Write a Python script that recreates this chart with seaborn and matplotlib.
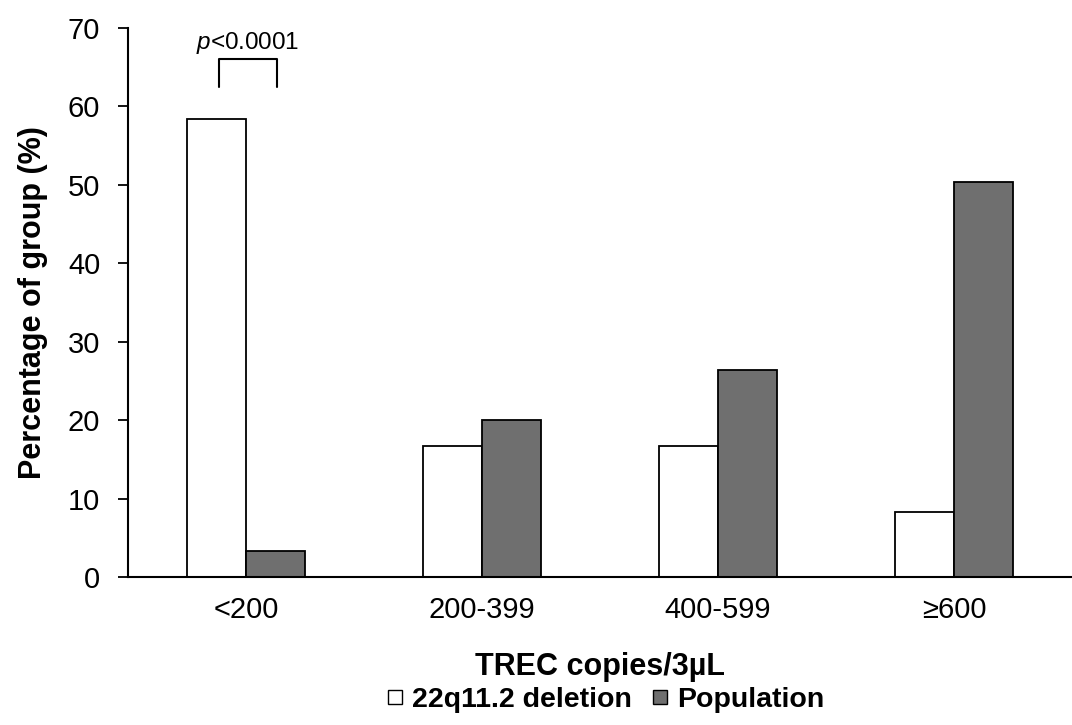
import matplotlib
matplotlib.use("Agg")
import matplotlib.pyplot as plt
import seaborn as sns
import pandas as pd
from matplotlib.lines import Line2D

categories = ["<200", "200-399", "400-599", "≥600"]
deletion = [58.3, 16.7, 16.7, 8.3]
population = [3.3, 20.0, 26.4, 50.3]
series_names = ["22q11.2 deletion", "Population"]
colors = ["#ffffff", "#6f6f6f"]
yticks = [0, 10, 20, 30, 40, 50, 60, 70]

sns.set_theme(style="white")
plt.rcParams["font.family"] = ["Liberation Sans", "DejaVu Sans"]
plt.rcParams["mathtext.fontset"] = "custom"
plt.rcParams["mathtext.it"] = "Liberation Sans:italic"
plt.rcParams["mathtext.rm"] = "Liberation Sans"
plt.rcParams["text.color"] = "black"
plt.rcParams["axes.labelcolor"] = "black"
plt.rcParams["xtick.color"] = "black"
plt.rcParams["ytick.color"] = "black"

df = pd.DataFrame({
    "cat": categories * 2,
    "val": deletion + population,
    "grp": [series_names[0]] * 4 + [series_names[1]] * 4,
})

fig = plt.figure(figsize=(10.72, 7.25), dpi=100)
ax = fig.add_axes([0.1194, 0.2041, 0.8806, 0.7579])

sns.barplot(data=df, x="cat", y="val", hue="grp", order=categories,
            hue_order=series_names, palette=colors, width=0.5,
            edgecolor="black", linewidth=1.3, legend=False, ax=ax, errorbar=None)

ax.set_ylim(0, 70)
ax.set_xlim(-0.5, 3.5)
ax.set_yticks(yticks)
ax.set_yticklabels([str(t) for t in yticks], fontsize=21)
ax.tick_params(axis="y", left=True, direction="out", length=7, width=1.3,
               color="black", labelcolor="black", pad=13)
ax.tick_params(axis="x", bottom=False, length=0, labelsize=21, labelcolor="black", pad=14)
for s in ["top", "right"]:
    ax.spines[s].set_visible(False)
for s in ["left", "bottom"]:
    ax.spines[s].set_color("black")
    ax.spines[s].set_linewidth(1.5)

ax.set_ylabel("Percentage of group (%)", fontsize=22, fontweight="bold",
              color="black", labelpad=14)
ax.set_xlabel("TREC copies/3µL", fontsize=22, fontweight="bold",
              color="black", labelpad=20)

# significance bracket
bx0, bx1, by0, by1 = -0.115, 0.13, 62.4, 66.0
ax.plot([bx0, bx0, bx1, bx1], [by0, by1, by1, by0], color="black", lw=1.5, clip_on=False)
ax.text((bx0 + bx1) / 2, 67.3, r"$\it{p}$<0.0001", ha="center", va="baseline",
        fontsize=17.5, color="black")

handles = [Line2D([], [], linestyle="none", marker="s", markersize=10.5,
                  markerfacecolor=c, markeredgecolor="black", markeredgewidth=1.0)
           for c in colors]
fig.legend(handles, series_names, loc="center", bbox_to_anchor=(0.565, 0.034),
           ncol=2, frameon=False, handlelength=0.6, handletextpad=0.3,
           columnspacing=0.7, labelcolor="black",
           prop={"weight": "bold", "size": 20.5, "family": "Liberation Sans"})

fig.savefig("out.png", dpi=100)
